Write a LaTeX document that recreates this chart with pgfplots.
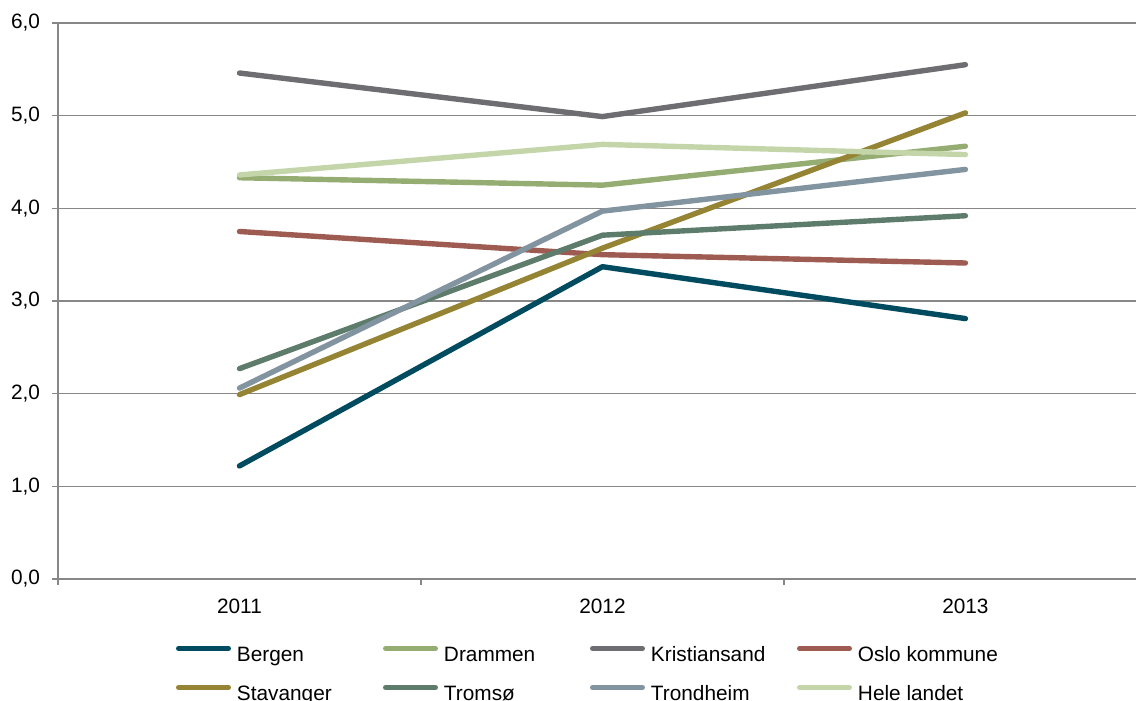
\documentclass[border=0pt]{standalone}
\usepackage{fontspec}
\setmainfont{Liberation Sans}
\usepackage{pgfplots}
\pgfplotsset{compat=1.18}
\definecolor{cBergen}{HTML}{004B5F}
\definecolor{cDrammen}{HTML}{95AD72}
\definecolor{cKrist}{HTML}{6D6D72}
\definecolor{cOslo}{HTML}{9E5B52}
\definecolor{cStav}{HTML}{958434}
\definecolor{cTromso}{HTML}{5E7C6B}
\definecolor{cTrond}{HTML}{8394A1}
\definecolor{cHele}{HTML}{C3D5A9}
\definecolor{cAxis}{HTML}{878787}
\begin{document}
\begin{tikzpicture}
\begin{axis}[
  scale only axis,
  width=539pt, height=278pt,
  xmin=-0.5, xmax=2.47,
  ymin=0, ymax=6,
  axis x line=bottom, axis y line=left,
  axis line style={cAxis, line width=0.8pt, -},
  xtick={0,1,2},
  xticklabels={2011,2012,2013},
  minor xtick={-0.5,0.5,1.5},
  ytick={0,1,2,3,4,5,6},
  ymajorgrids,
  major grid style={cAxis, line width=0.8pt},
  tick style={cAxis, line width=0.8pt},
  major x tick style={draw=none},
  major tick length=3pt,
  minor tick length=3pt,
  tick align=outside,
  tick label style={font=\fontsize{10.4}{12}\selectfont, text=black},
  xticklabel style={yshift=-3.5pt},
  yticklabel style={xshift=-2.5pt},
  /pgf/number format/.cd, fixed, fixed zerofill, precision=1, use comma, assume math mode=true,
  /pgfplots/.cd,
  every axis plot/.append style={line width=2.7pt, line cap=round, line join=round},
  legend columns=4,
  legend style={at={(0,0)}, anchor=north west, xshift=59pt, yshift=-33.5pt,
    draw=none, fill=none, inner sep=0pt, outer sep=0pt, row sep=10pt,
    nodes={inner sep=0pt, outer sep=0pt, text height=7.5pt, text depth=1.5pt, font=\fontsize{10.4}{12}\selectfont},
    /tikz/every odd column/.append style={column sep=3pt}},
  legend image code/.code={\draw[#1, line width=2.5pt, line cap=round] (0pt,3.75pt) -- (25pt,3.75pt);},
]
\addplot[cBergen] coordinates {(0,1.22) (1,3.37) (2,2.81)};
\addlegendentry{\makebox[73pt][l]{Bergen}}
\addplot[cDrammen] coordinates {(0,4.33) (1,4.25) (2,4.67)};
\addlegendentry{\makebox[73pt][l]{Drammen}}
\addplot[cKrist] coordinates {(0,5.46) (1,4.99) (2,5.55)};
\addlegendentry{\makebox[73pt][l]{Kristiansand}}
\addplot[cOslo] coordinates {(0,3.75) (1,3.50) (2,3.41)};
\addlegendentry{\makebox[73pt][l]{Oslo kommune}}
\addplot[cStav] coordinates {(0,1.99) (1,3.57) (2,5.03)};
\addlegendentry{\makebox[73pt][l]{Stavanger}}
\addplot[cTromso] coordinates {(0,2.27) (1,3.71) (2,3.92)};
\addlegendentry{\makebox[73pt][l]{Tromsø}}
\addplot[cTrond] coordinates {(0,2.06) (1,3.97) (2,4.42)};
\addlegendentry{\makebox[73pt][l]{Trondheim}}
\addplot[cHele] coordinates {(0,4.36) (1,4.69) (2,4.58)};
\addlegendentry{\makebox[73pt][l]{Hele landet}}
\end{axis}
\pgfresetboundingbox
\useasboundingbox (-29pt,-61pt) rectangle (539pt,289.5pt);
\end{tikzpicture}
\end{document}
